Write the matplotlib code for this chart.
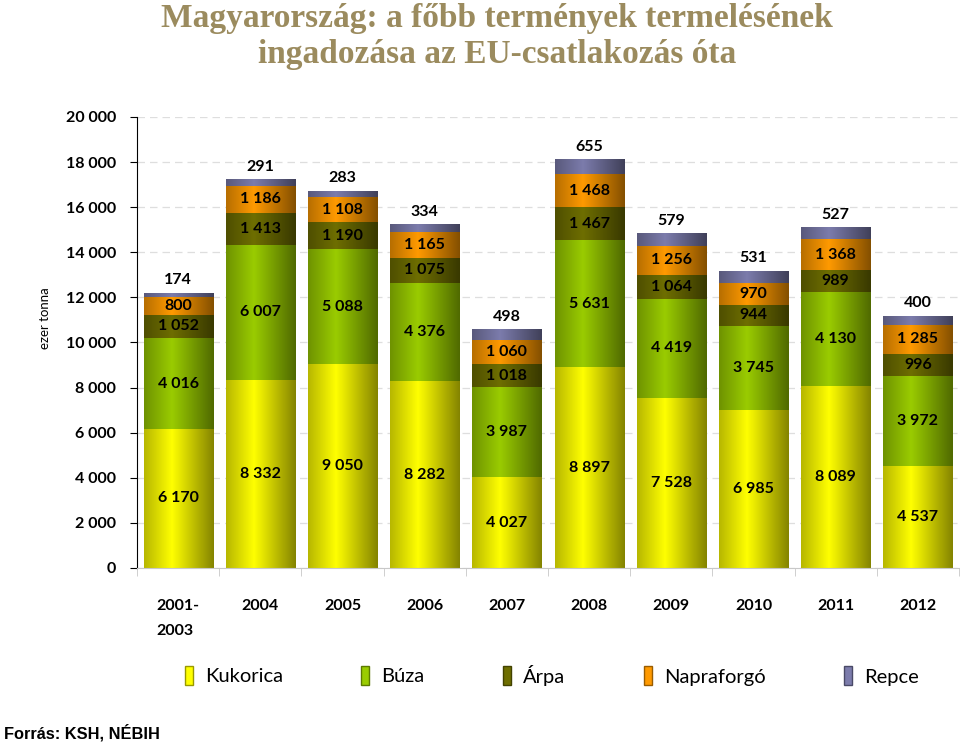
import numpy as np
import matplotlib
matplotlib.use("Agg")
import matplotlib.pyplot as plt
from matplotlib.patches import Patch
from matplotlib.colors import to_rgb

# data (ezer tonna)
years = ["2001-\n2003", "2004", "2005", "2006", "2007", "2008", "2009", "2010", "2011", "2012"]
kukorica = [6170, 8332, 9050, 8282, 4027, 8897, 7528, 6985, 8089, 4537]
buza = [4016, 6007, 5088, 4376, 3987, 5631, 4419, 3745, 4130, 3972]
arpa = [1052, 1413, 1190, 1075, 1018, 1467, 1064, 944, 989, 996]
napraforgo = [800, 1186, 1108, 1165, 1060, 1468, 1256, 970, 1368, 1285]
repce = [174, 291, 283, 334, 498, 655, 579, 531, 527, 400]

series = [("Kukorica", kukorica, "#ffff00"),
          ("Búza", buza, "#9acc00"),
          ("Árpa", arpa, "#6e6e00"),
          ("Napraforgó", napraforgo, "#ff9a00"),
          ("Repce", repce, "#7c7cac")]

plt.rcParams["font.family"] = ["Lato", "DejaVu Sans"]


def fmt(v):
    return f"{v:,}".replace(",", " ")


def gradient(color, n=64):
    # cylinder-like shading: medium left, bright at ~40%, dark right
    t = np.linspace(0, 1, n)
    f = np.interp(t, [0, 0.4, 1], [0.72, 1.0, 0.52])
    rgb = np.array(to_rgb(color))
    return (f[:, None] * rgb[None, :])[None, :, :]


fig = plt.figure(figsize=(9.6, 7.45), dpi=100)
ax = fig.add_axes([0.1427, 0.2376, 0.8563, 0.6054])

x = np.arange(len(years))
width = 0.84
bottom = np.zeros(len(years))

for name, vals, col in series:
    vals = np.array(vals)
    bars = ax.bar(x, vals, width, bottom=bottom, facecolor="none",
                  edgecolor="none", zorder=3)
    grad = gradient(col)
    for b in bars:
        im = ax.imshow(grad, extent=(b.get_x(), b.get_x() + b.get_width(),
                                     b.get_y(), b.get_y() + b.get_height()),
                       aspect="auto", zorder=2, interpolation="bilinear")
        im.set_clip_path(b)
    if name == "Repce":
        for xi, v, bt in zip(x, vals, bottom):
            ax.text(xi, bt + v + 250, fmt(v), ha="center", va="bottom",
                    fontsize=11.5, fontweight="bold", zorder=4)
    else:
        for xi, v, bt in zip(x, vals, bottom):
            ax.text(xi, bt + v / 2, fmt(v), ha="center", va="center",
                    fontsize=11.5, fontweight="bold", zorder=4)
    bottom += vals

ax.set_xlim(-0.5, 9.5)
ax.set_ylim(0, 20000)
ax.set_yticks(range(0, 20001, 2000))
ax.set_yticklabels([fmt(v) for v in range(0, 20001, 2000)],
                   fontsize=11.5, fontweight="bold")
ax.tick_params(axis="y", length=5, pad=10)

ax.set_xticks(x)
ax.set_xticklabels(years, fontsize=11.5, fontweight="bold",
                   linespacing=2.05, va="top")
for lbl in ax.get_xticklabels():
    lbl.set_multialignment("left")
ax.tick_params(axis="x", length=0, pad=22)
ax.set_xticks(np.arange(-0.5, 10, 1), minor=True)
ax.tick_params(axis="x", which="minor", length=6, color="#c8c8c8")

ax.yaxis.grid(True, linestyle=(0, (6, 4)), color="#dedede", linewidth=0.9)
ax.set_axisbelow(True)
for s in ["top", "right"]:
    ax.spines[s].set_visible(False)
ax.spines["bottom"].set_color("#c8c8c8")
ax.spines["left"].set_color("black")

fig.text(0.047, 1 - 318 / 745, "ezer tonna", rotation=90, ha="center",
         va="center", fontsize=9.5)

fig.text(0.518, 1 - 3 / 745,
         "Magyarország: a főbb termények termelésének\ningadozása az EU-csatlakozás óta",
         ha="center", va="top", fontsize=24, fontweight="bold",
         family="Liberation Serif", color="#9b8b5e", linespacing=1.2)

handles = [Patch(facecolor=c, edgecolor=np.array(to_rgb(c)) * 0.6) for _, _, c in series]
fig.legend(handles, [s[0] for s in series], loc="center",
           bbox_to_anchor=(0.575, 1 - 675 / 745), ncol=5, frameon=False,
           fontsize=14.5, handlelength=0.4, handleheight=1.1,
           handletextpad=0.6, columnspacing=3.9)

fig.text(0.004, 1 - 733 / 745, "Forrás: KSH, NÉBIH", ha="left", va="center",
         fontsize=11.8, fontweight="bold", family="Liberation Sans")

fig.savefig("out.png", dpi=100)
